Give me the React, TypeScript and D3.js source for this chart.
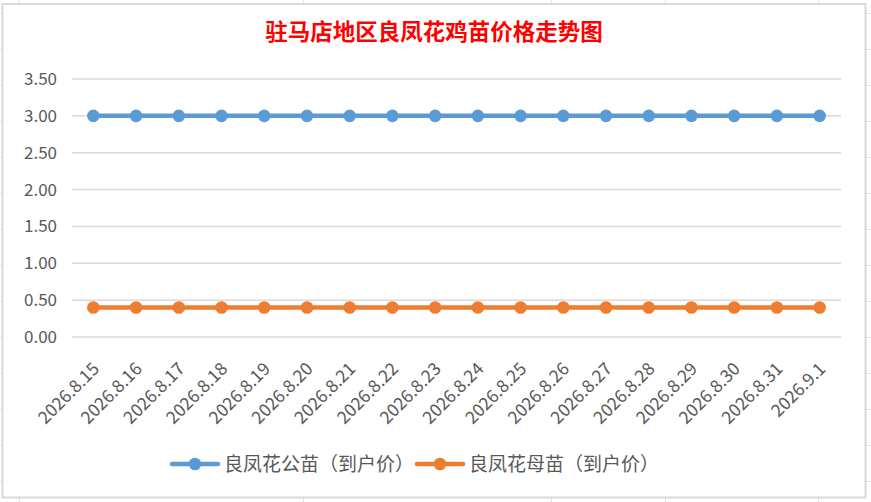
import * as d3 from 'd3';

const title = '驻马店地区良凤花鸡苗价格走势图';

const dates = [
  '2026.8.15', '2026.8.16', '2026.8.17', '2026.8.18', '2026.8.19', '2026.8.20',
  '2026.8.21', '2026.8.22', '2026.8.23', '2026.8.24', '2026.8.25', '2026.8.26',
  '2026.8.27', '2026.8.28', '2026.8.29', '2026.8.30', '2026.8.31', '2026.9.1',
];

const maleName = '良凤花公苗（到户价）';
const maleValues = [3, 3, 3, 3, 3, 3, 3, 3, 3, 3, 3, 3, 3, 3, 3, 3, 3, 3];

const femaleName = '良凤花母苗（到户价）';
const femaleValues = [0.4, 0.4, 0.4, 0.4, 0.4, 0.4, 0.4, 0.4, 0.4, 0.4, 0.4, 0.4, 0.4, 0.4, 0.4, 0.4, 0.4, 0.4];

const yTicks = [0, 0.5, 1, 1.5, 2, 2.5, 3, 3.5];

// spreadsheet cell lines peeking out around the chart frame
const sheetRows = [13, 49, 85, 121, 157, 193, 229, 265, 301, 337, 373, 409, 445, 481];
const sheetCols = [19, 303, 551, 665, 818];

const W = 871;
const H = 502;
const frame = { x: 2.5, y: 4, w: 863, h: 493.5 };
const plot = { left: 72, right: 841, top: 79, bottom: 337 };

const font = '"Noto Sans CJK SC", "Noto Sans", sans-serif';

export default function App() {
  const x = d3
    .scalePoint<string>()
    .domain(dates)
    .range([plot.left, plot.right])
    .padding(0.5);

  const y = d3.scaleLinear().domain([0, 3.5]).range([plot.bottom, plot.top]);

  const line = d3
    .line<number>()
    .x((_, i) => x(dates[i]) ?? 0)
    .y((d) => y(d));

  const series = [
    { name: maleName, values: maleValues, color: '#5B9BD5' },
    { name: femaleName, values: femaleValues, color: '#ED7D31' },
  ];

  const legendX = [172, 417];

  return (
    <div style={{ position: 'fixed', left: 0, top: 0 }}>
      <svg width={W} height={H} style={{ display: 'block', background: '#fff' }}>
        {sheetRows.map((r) => (
          <line key={'r' + r} x1={0} x2={W} y1={r + 0.5} y2={r + 0.5} stroke="#e3e3e3" strokeWidth={1} />
        ))}
        {sheetCols.map((c) => (
          <line key={'c' + c} x1={c + 0.5} x2={c + 0.5} y1={0} y2={H} stroke="#e3e3e3" strokeWidth={1} />
        ))}
        <rect
          x={frame.x}
          y={frame.y}
          width={frame.w}
          height={frame.h}
          fill="#fff"
          stroke="#d9d9d9"
          strokeWidth={2}
        />

        <text
          x={434}
          y={40}
          textAnchor="middle"
          fill="#FF0000"
          fontFamily={font}
          fontWeight={700}
          fontSize={22.5}
        >
          {title}
        </text>

        {yTicks.map((t) => (
          <g key={t}>
            <line x1={plot.left} x2={plot.right} y1={y(t)} y2={y(t)} stroke="#d9d9d9" strokeWidth={1.5} />
            <text
              x={57}
              y={y(t)}
              dy="0.35em"
              textAnchor="end"
              fill="#595959"
              fontFamily={font}
              fontSize={17}
            >
              {t.toFixed(2)}
            </text>
          </g>
        ))}

        {dates.map((d) => (
          <text
            key={d}
            transform={`translate(${(x(d) ?? 0) + 7},370) rotate(-45)`}
            textAnchor="end"
            fill="#595959"
            fontFamily={font}
            fontSize={17.5}
          >
            {d}
          </text>
        ))}

        {series.map((s) => (
          <g key={s.name}>
            <path d={line(s.values) ?? ''} fill="none" stroke={s.color} strokeWidth={4.5} strokeLinejoin="round" />
            {s.values.map((v, i) => (
              <circle key={i} cx={x(dates[i])} cy={y(v)} r={6.3} fill={s.color} />
            ))}
          </g>
        ))}

        {series.map((s, i) => (
          <g key={'lg' + s.name} transform={`translate(${legendX[i]},464)`}>
            <line x1={0} x2={46} y1={0} y2={0} stroke={s.color} strokeWidth={4.5} strokeLinecap="round" />
            <circle cx={23} cy={0} r={6.3} fill={s.color} />
            <text x={52} y={0} dy="0.36em" fill="#595959" fontFamily={font} fontSize={19}>
              {s.name}
            </text>
          </g>
        ))}
      </svg>
    </div>
  );
}
